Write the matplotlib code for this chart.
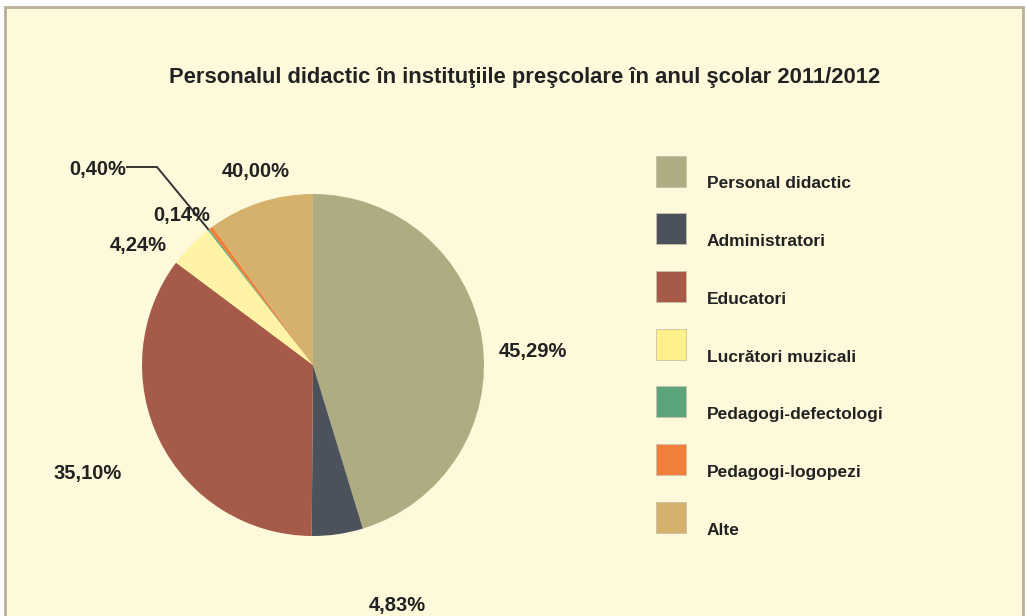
import matplotlib
matplotlib.use('Agg')
import matplotlib.pyplot as plt
from matplotlib.patches import Rectangle

# Personnel categories and their share (percent)
categories = ['Personal didactic', 'Administratori', 'Educatori', 'Lucrători muzicali',
              'Pedagogi-defectologi', 'Pedagogi-logopezi', 'Alte']
shares = [45.29, 4.83, 35.10, 4.24, 0.14, 0.40, 10.00]
# value labels as printed on the chart
share_labels = ['45,29%', '4,83%', '35,10%', '4,24%', '0,14%', '0,40%', '40,00%']

colors = ['#b0ac82', '#4b525c', '#a65a48', '#fff3a6', '#5ca47b', '#f07f3a', '#d5b16c']
bg_color = '#fff9dc'
border_color = '#b9ae98'
text_color = '#222222'

plt.rcParams['font.family'] = ['Liberation Sans', 'DejaVu Sans']

W, H = 1027, 616
fig = plt.figure(figsize=(W / 100, H / 100), dpi=100)
fig.patch.set_facecolor('white')

# the whole figure is one axes in pixel units (y measured upward)
ax = fig.add_axes([0, 0, 1, 1])

# cream panel with a thin frame on top and left
ax.add_patch(Rectangle((5, -2), 1018, H - 7 + 2, facecolor=bg_color,
                       edgecolor=border_color, linewidth=2, zorder=0))

# the pie, clockwise from the top
cx, cy, radius = 313, H - 365, 171
ax.pie(shares, colors=colors, startangle=90, counterclock=False,
       center=(cx, cy), radius=radius, frame=True,
       wedgeprops=dict(linewidth=0))
ax.set_xlim(0, W)
ax.set_ylim(0, H)
ax.set_aspect('equal')
ax.axis('off')

# value label positions (pixels from top-left)
label_pos = [(533, 352), (397, 605), (88, 474), (138, 246), (182, 215), (98, 170), (256, 171)]
for text, (px, py) in zip(share_labels, label_pos):
    ax.text(px, H - py, text, ha='center', va='center', fontsize=14.5,
            fontweight='bold', color=text_color)

# leader line for the 0,40% label
ax.plot([127, 157, 208], [H - 167, H - 167, H - 229], color='#333333', linewidth=1.4)

# title
ax.text(525, H - 78, 'Personalul didactic în instituţiile preşcolare în anul şcolar 2011/2012',
        ha='center', va='center', fontsize=15.8, fontweight='bold', color=text_color)

# legend built by hand: swatch on the left, label slightly below
for i, (name, col) in enumerate(zip(categories, colors)):
    y = H - (171 + i * 57.7)
    swatch = '#fff08a' if name == 'Lucrători muzicali' else col
    ax.add_patch(Rectangle((656, y - 15.5), 30, 31, facecolor=swatch,
                           edgecolor='#c8c0a8', linewidth=0.6))
    ax.text(707, y - 13, name, ha='left', va='center', fontsize=12.5,
            fontweight='bold', color=text_color)

fig.savefig('out.png', dpi=100, facecolor=fig.get_facecolor())
